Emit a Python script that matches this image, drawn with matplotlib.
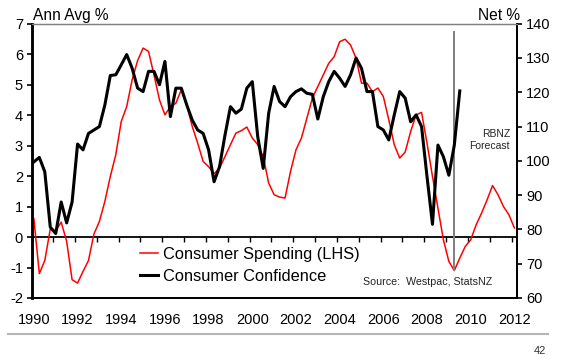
import numpy as np
import matplotlib
matplotlib.use("Agg")
import matplotlib.pyplot as plt
from matplotlib.lines import Line2D

plt.rcParams['font.family'] = ['Liberation Sans', 'DejaVu Sans']
plt.rcParams['axes.unicode_minus'] = False

# quarterly series, starting 1990 Q1
spending = [0.60, -1.20, -0.77, 0.26, 0.20, 0.49, -0.14, -1.40, -1.51, -1.13,
            -0.77, 0.10, 0.51, 1.17, 1.99, 2.70, 3.79, 4.28, 5.16, 5.79,
            6.20, 6.09, 5.32, 4.50, 4.01, 4.28, 4.39, 4.83, 4.34, 3.63,
            3.08, 2.48, 2.31, 2.08, 2.26, 2.64, 3.03, 3.41, 3.49, 3.61,
            3.25, 3.03, 2.64, 1.77, 1.39, 1.31, 1.28, 2.15, 2.86, 3.25,
            3.90, 4.56, 4.94, 5.32, 5.70, 5.92, 6.41, 6.49, 6.30, 5.87,
            5.05, 5.05, 4.77, 4.89, 4.61, 3.85, 3.03, 2.59, 2.79, 3.46,
            4.01, 4.09, 3.08, 1.99, 0.95, -0.09, -0.80, -1.10, -0.69, -0.31,
            -0.09, 0.40, 0.79, 1.22, 1.69, 1.39, 1.00, 0.73, 0.30]
confidence = [99.7, 101.0, 96.8, 80.7, 78.8, 88.0, 81.9, 88.0, 104.9, 103.2,
              108.0, 109.0, 110.0, 116.3, 124.9, 125.1, 128.0, 131.0, 127.0, 121.2,
              120.2, 126.1, 126.1, 122.2, 129.0, 112.9, 121.2, 121.2, 116.3, 111.9,
              109.0, 108.0, 103.2, 93.9, 98.3, 107.5, 115.8, 113.9, 115.1, 121.2,
              123.1, 107.0, 97.8, 113.9, 121.7, 117.3, 115.8, 118.7, 120.2, 121.0,
              119.7, 119.4, 112.2, 118.7, 123.1, 126.1, 124.1, 121.7, 125.1, 130.0,
              127.0, 120.2, 120.2, 110.0, 109.0, 106.1, 113.4, 120.2, 118.3, 111.4,
              113.4, 110.0, 95.4, 81.5, 104.6, 101.2, 95.8, 104.6, 120.4]
start_year = 1990
forecast_start = 2009.25
year_labels = list(range(1990, 2013, 2))
left_ticks = list(range(-2, 8))
right_ticks = list(range(60, 141, 10))

x_spend = start_year + 0.25 * np.arange(len(spending))
x_conf = start_year + 0.25 * np.arange(len(confidence))

fig = plt.figure(figsize=(5.63, 3.58), dpi=100)
ax = fig.add_axes([0.0568, 0.1676, 0.8615, 0.7662])
ax2 = ax.twinx()

ax.plot(x_spend, spending, color='#ff0000', lw=1.1, zorder=3)
ax2.plot(x_conf, confidence, color='black', lw=2.2, zorder=3)

# forecast marker
fc_idx = int(round((forecast_start - start_year) / 0.25))
ax.vlines(forecast_start, spending[fc_idx], 6.75, color='#7f7f7f', lw=1.4, zorder=4)
ax.text(2011.8, 3.17, "RBNZ\nForecast", ha='right', va='center', fontsize=7.5,
        color='#222222', linespacing=1.25)

ax.set_xlim(1989.913, 2012.12)
ax.set_ylim(-2, 7)
ax2.set_ylim(60, 140)
ax.set_yticks(left_ticks)
ax2.set_yticks(right_ticks)
ax.set_xticks(year_labels)
ax.tick_params(axis='x', length=0, pad=11, labelsize=10.5)
ax.tick_params(axis='y', length=3.5, width=1.2, labelsize=10.5, pad=3)
ax2.tick_params(axis='y', length=3.5, width=1.2, labelsize=10.5, pad=3)

# year ticks on the zero line
zero_ax = ax.secondary_xaxis(2 / 9)
zero_ax.set_xticks([y - 0.125 for y in range(1991, 2013)])
zero_ax.tick_params(axis='x', length=3.5, width=1.0, labelbottom=False)
zero_ax.spines['bottom'].set_linewidth(1.3)

for a in (ax, ax2):
    a.spines['top'].set_color('#808080')
    a.spines['top'].set_linewidth(0.9)
    a.spines['bottom'].set_linewidth(1.3)
    a.spines['left'].set_linewidth(1.8)
    a.spines['right'].set_linewidth(1.3)

fig.text(0.0586, 0.945, "Ann Avg %", ha='left', va='baseline', fontsize=11.2)
fig.text(0.924, 0.945, "Net %", ha='right', va='baseline', fontsize=11.2)

handles = [Line2D([], [], color='#ff0000', lw=1.1), Line2D([], [], color='black', lw=2.2)]
ax2.legend(handles, ["Consumer Spending (LHS)", "Consumer Confidence"], loc='upper left',
           bbox_to_anchor=(0.222, 0.187), frameon=False, fontsize=11.8,
           handlelength=1.1, handletextpad=0.3, labelspacing=0.45,
           borderpad=0, borderaxespad=0)
ax2.text(0.6825, 0.0583, "Source:  Westpac, StatsNZ", transform=ax2.transAxes,
         ha='left', va='center', fontsize=7.7, color='#222222')

fig.add_artist(Line2D([8 / 563, 548 / 563], [1 - 334 / 358] * 2, color='#b5b5b5', lw=1.5))
fig.text(546 / 563, 1 - 351 / 358, "42", ha='right', va='center', fontsize=8, color='#333333')

fig.savefig("out.png", dpi=100)
